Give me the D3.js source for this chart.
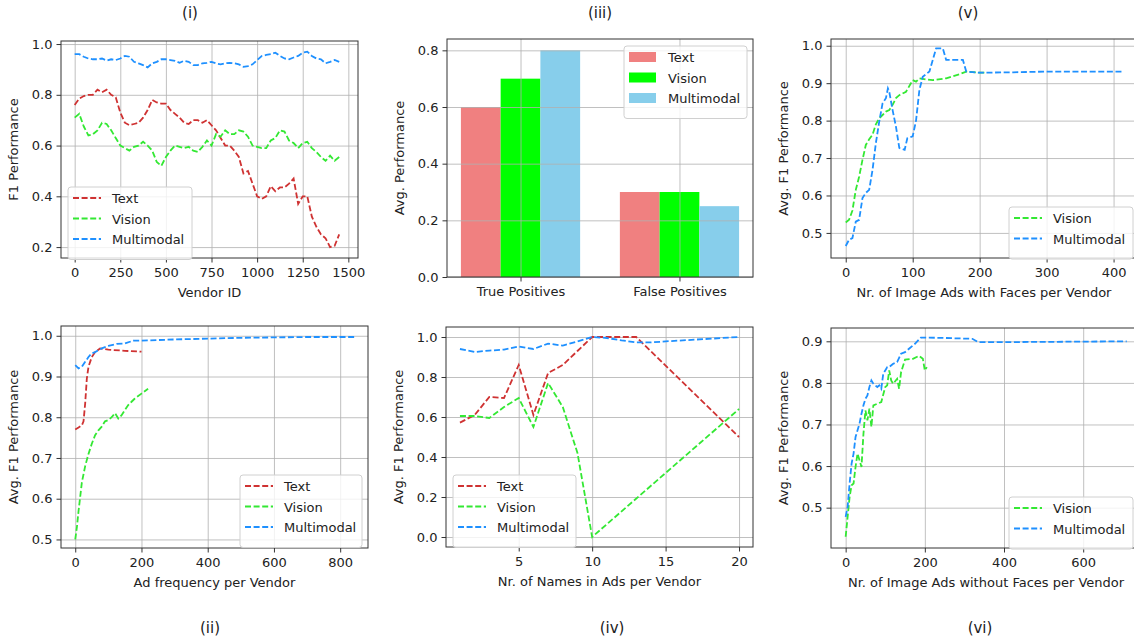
<!DOCTYPE html>
<html>
<head>
<meta charset="utf-8">
<script src="https://cdn.jsdelivr.net/npm/d3@7"></script>
<style>
body { margin: 0; background: #fff; }
text { font-family: "DejaVu Sans", sans-serif; fill: #222; }
.tick text { font-size: 13px; }
.grid line { stroke: #b0b0b0; stroke-width: 0.8; }
.grid .domain { display: none; }
.axis .domain { display: none; }
.axis line { stroke: #333; }
</style>
</head>
<body>
<script>
var svgWidth = 1134;
var svgHeight = 643;

var modelNames = ["Text", "Vision", "Multimodal"];

// (i) F1 per vendor
var vendorIds = [0, 25, 50, 75, 100, 125, 150, 175, 200, 225, 250, 275, 300, 325, 350, 375, 400, 425, 450, 475,
    500, 525, 550, 575, 600, 625, 650, 675, 700, 725, 750, 775, 800, 825, 850, 875, 900, 925, 950, 975,
    1000, 1025, 1050, 1075, 1100, 1125, 1150, 1175, 1200, 1225, 1250, 1275, 1300, 1325, 1350, 1375, 1400, 1425, 1450];
var textByVendor = [0.76, 0.785, 0.795, 0.80, 0.80, 0.82, 0.81, 0.82, 0.80, 0.79, 0.73, 0.69, 0.68, 0.685, 0.69, 0.71, 0.74, 0.78, 0.77, 0.765,
    0.765, 0.74, 0.725, 0.71, 0.69, 0.685, 0.70, 0.70, 0.69, 0.70, 0.68, 0.66, 0.63, 0.60, 0.60, 0.58, 0.555, 0.49, 0.50, 0.45,
    0.40, 0.39, 0.40, 0.44, 0.42, 0.435, 0.435, 0.45, 0.47, 0.37, 0.40, 0.40, 0.32, 0.28, 0.25, 0.235, 0.20, 0.205, 0.25];
var visionByVendor = [0.71, 0.725, 0.675, 0.64, 0.645, 0.66, 0.69, 0.685, 0.66, 0.63, 0.60, 0.59, 0.58, 0.595, 0.60, 0.615, 0.60, 0.58, 0.535, 0.52,
    0.555, 0.58, 0.60, 0.595, 0.59, 0.595, 0.58, 0.575, 0.595, 0.62, 0.60, 0.645, 0.635, 0.66, 0.645, 0.645, 0.66, 0.655, 0.635, 0.60,
    0.595, 0.59, 0.59, 0.62, 0.63, 0.66, 0.655, 0.62, 0.61, 0.59, 0.61, 0.615, 0.59, 0.575, 0.555, 0.54, 0.56, 0.54, 0.555];
var multiByVendor = [0.96, 0.96, 0.95, 0.943, 0.94, 0.94, 0.943, 0.935, 0.94, 0.937, 0.943, 0.953, 0.95, 0.93, 0.924, 0.917, 0.908, 0.924, 0.93, 0.94,
    0.94, 0.937, 0.934, 0.926, 0.934, 0.93, 0.917, 0.917, 0.924, 0.926, 0.93, 0.924, 0.92, 0.924, 0.926, 0.924, 0.92, 0.91, 0.913, 0.92,
    0.937, 0.953, 0.957, 0.96, 0.966, 0.953, 0.943, 0.94, 0.947, 0.953, 0.966, 0.97, 0.953, 0.943, 0.94, 0.924, 0.93, 0.937, 0.93];

// (iii) bars
var barCategories = ["True Positives", "False Positives"];
var barText = [0.6, 0.3];
var barVision = [0.7, 0.3];
var barMulti = [0.8, 0.25];

// (v) image ads with faces
var facesVision = [[0, 0.528], [5, 0.535], [10, 0.56], [15, 0.615], [20, 0.65], [25, 0.695], [30, 0.735], [35, 0.75], [40, 0.762],
    [45, 0.79], [50, 0.806], [55, 0.815], [60, 0.824], [65, 0.828], [70, 0.842], [75, 0.86], [80, 0.868], [90, 0.877], [100, 0.908],
    [105, 0.904], [110, 0.913], [120, 0.91], [130, 0.908], [150, 0.913], [170, 0.924], [180, 0.931], [200, 0.928], [210, 0.928]];
var facesMulti = [[0, 0.465], [5, 0.482], [10, 0.486], [15, 0.53], [20, 0.535], [25, 0.593], [30, 0.607], [35, 0.615], [40, 0.668],
    [45, 0.74], [50, 0.797], [55, 0.846], [60, 0.86], [63, 0.886], [65, 0.877], [70, 0.828], [75, 0.784], [80, 0.727], [88, 0.722],
    [92, 0.753], [100, 0.758], [105, 0.80], [110, 0.882], [115, 0.917], [125, 0.931], [135, 0.993], [145, 0.993], [150, 0.962],
    [175, 0.962], [180, 0.931], [200, 0.928], [250, 0.929], [300, 0.931], [415, 0.931]];

// (ii) ad frequency
var freqText = [[0, 0.77], [10, 0.775], [20, 0.78], [25, 0.79], [30, 0.834], [35, 0.895], [40, 0.924], [50, 0.948], [60, 0.96],
    [75, 0.969], [100, 0.966], [150, 0.963], [200, 0.961]];
var freqVision = [[0, 0.50], [5, 0.53], [10, 0.57], [15, 0.605], [20, 0.64], [25, 0.66], [30, 0.68], [40, 0.71], [50, 0.735],
    [60, 0.756], [70, 0.768], [80, 0.777], [90, 0.79], [100, 0.793], [110, 0.80], [120, 0.81], [130, 0.797], [140, 0.805],
    [150, 0.818], [160, 0.83], [170, 0.838], [180, 0.846], [200, 0.858], [220, 0.87]];
var freqMulti = [[0, 0.928], [10, 0.92], [20, 0.924], [30, 0.936], [40, 0.948], [50, 0.957], [60, 0.96], [80, 0.969], [100, 0.975],
    [125, 0.98], [150, 0.981], [175, 0.988], [200, 0.988], [300, 0.991], [400, 0.993], [500, 0.995], [600, 0.996], [700, 0.997], [845, 0.997]];

// (iv) names in ads
var namesText = [[1, 0.572], [2, 0.61], [3, 0.70], [4, 0.695], [5, 0.86], [6, 0.61], [7, 0.82], [8, 0.86], [9, 0.93],
    [10, 1.0], [11, 1.0], [12, 1.0], [13, 1.0], [20, 0.50]];
var namesVision = [[1, 0.605], [2, 0.605], [3, 0.595], [4, 0.65], [5, 0.695], [6, 0.55], [7, 0.77], [8, 0.65], [9, 0.42],
    [10, 0.0], [20, 0.64]];
var namesMulti = [[1, 0.94], [2, 0.925], [3, 0.932], [4, 0.937], [5, 0.953], [6, 0.94], [7, 0.967], [8, 0.957], [9, 0.978],
    [10, 1.0], [11, 0.995], [12, 0.983], [13, 0.973], [14, 0.973], [15, 0.978], [20, 1.0]];

// (vi) image ads without faces
var noFacesVision = [[0, 0.43], [5, 0.478], [10, 0.526], [15, 0.554], [20, 0.558], [25, 0.598], [30, 0.63], [35, 0.614], [40, 0.598],
    [45, 0.678], [50, 0.734], [55, 0.71], [60, 0.738], [65, 0.694], [70, 0.746], [80, 0.75], [90, 0.754], [100, 0.79], [105, 0.794],
    [110, 0.83], [115, 0.806], [120, 0.798], [130, 0.81], [135, 0.786], [140, 0.826], [150, 0.856], [170, 0.858], [185, 0.865],
    [195, 0.858], [200, 0.83], [205, 0.838]];
var noFacesMulti = [[0, 0.478], [5, 0.502], [10, 0.558], [15, 0.606], [20, 0.63], [25, 0.67], [30, 0.686], [35, 0.702], [40, 0.726],
    [45, 0.746], [50, 0.762], [55, 0.77], [60, 0.79], [65, 0.806], [70, 0.798], [80, 0.79], [85, 0.794], [90, 0.786], [95, 0.822],
    [100, 0.83], [105, 0.838], [110, 0.838], [120, 0.846], [130, 0.85], [140, 0.87], [150, 0.874], [160, 0.882], [175, 0.894],
    [190, 0.909], [200, 0.909], [250, 0.908], [320, 0.906], [335, 0.898], [400, 0.898], [710, 0.90]];

var lineColors = {Text: "#cf3232", Vision: "#33e833", Multimodal: "#1e90ff"};
var barColors = {Text: "lightcoral", Vision: "lime", Multimodal: "skyblue"};

var svg = d3.select("body")
            .append("svg")
            .attr("width", svgWidth)
            .attr("height", svgHeight);

var clipCount = 0;

function makePanel(box, xDom, yDom) {
    var x = d3.scaleLinear().domain(xDom).range([box.left, box.right]);
    var y = d3.scaleLinear().domain(yDom).range([box.bottom, box.top]);
    var id = "clip" + (clipCount++);
    svg.append("clipPath").attr("id", id)
       .append("rect")
       .attr("x", box.left).attr("y", box.top)
       .attr("width", box.right - box.left).attr("height", box.bottom - box.top);
    var g = svg.append("g");
    return {g: g, x: x, y: y, box: box, clip: id};
}

function drawGrid(p, xTicks, yTicks) {
    var b = p.box;
    p.g.append("g").attr("class", "grid")
       .attr("transform", `translate(0, ${b.bottom})`)
       .call(d3.axisBottom(p.x).tickValues(xTicks).tickSize(-(b.bottom - b.top)).tickFormat(""));
    p.g.append("g").attr("class", "grid")
       .attr("transform", `translate(${b.left}, 0)`)
       .call(d3.axisLeft(p.y).tickValues(yTicks).tickSize(-(b.right - b.left)).tickFormat(""));
}

function drawAxes(p, xTicks, yTicks, xFmt, yFmt, xLabel, yLabel) {
    var b = p.box;
    p.g.append("g").attr("class", "axis")
       .attr("transform", `translate(0, ${b.bottom})`)
       .call(d3.axisBottom(p.x).tickValues(xTicks).tickFormat(xFmt).tickSize(4.5).tickPadding(5));
    p.g.append("g").attr("class", "axis")
       .attr("transform", `translate(${b.left}, 0)`)
       .call(d3.axisLeft(p.y).tickValues(yTicks).tickFormat(yFmt).tickSize(4.5).tickPadding(4));
    p.g.append("rect")
       .attr("x", b.left).attr("y", b.top)
       .attr("width", b.right - b.left).attr("height", b.bottom - b.top)
       .attr("fill", "none").attr("stroke", "#333").attr("stroke-width", 1);
    p.g.append("text")
       .attr("x", (b.left + b.right) / 2)
       .attr("y", b.bottom + 39)
       .attr("text-anchor", "middle")
       .style("font-size", "13px")
       .text(xLabel);
    p.g.append("text")
       .attr("transform", `translate(${b.left - 43}, ${(b.top + b.bottom) / 2}) rotate(-90)`)
       .attr("text-anchor", "middle")
       .style("font-size", "13px")
       .text(yLabel);
}

function drawLines(p, seriesList) {
    var line = d3.line().x(d => p.x(d[0])).y(d => p.y(d[1]));
    p.g.append("g").attr("clip-path", `url(#${p.clip})`)
       .selectAll("path").data(seriesList).enter()
       .append("path")
       .attr("d", s => line(s.values))
       .attr("fill", "none")
       .attr("stroke", s => lineColors[s.name])
       .attr("stroke-width", 1.8)
       .attr("stroke-dasharray", "6,2.6");
}

function drawLegend(lx, ly, w, names, kind) {
    var h = 11 + names.length * 20.5;
    var lg = svg.append("g").attr("transform", `translate(${lx}, ${ly})`);
    lg.append("rect")
      .attr("width", w).attr("height", h).attr("rx", 3)
      .attr("fill", "#fff").attr("fill-opacity", 0.8)
      .attr("stroke", "#d0d0d0");
    names.forEach(function(name, i) {
        var cy = 11 + i * 20.5;
        if (kind === "bar") {
            lg.append("rect")
              .attr("x", 5).attr("y", cy - 5).attr("width", 27).attr("height", 10)
              .attr("fill", barColors[name]);
        } else {
            lg.append("line")
              .attr("x1", 5).attr("x2", 33).attr("y1", cy).attr("y2", cy)
              .attr("stroke", lineColors[name]).attr("stroke-width", 1.8)
              .attr("stroke-dasharray", "6,2.6");
        }
        lg.append("text")
          .attr("x", 44).attr("y", cy + 5)
          .style("font-size", "13px")
          .text(name);
    });
}

function caption(x, y, txt) {
    svg.append("text").attr("x", x).attr("y", y)
       .attr("text-anchor", "middle")
       .style("font-size", "15px")
       .text(txt);
}

var fmt1 = d3.format(".1f");
var fmt0 = d3.format("d");

// (i)
var p1 = makePanel({left: 61, right: 358, top: 41, bottom: 258}, [-75, 1553], [0.157, 1.012]);
var vendorSeries = [
    {name: "Text", values: vendorIds.map((v, i) => [v, textByVendor[i]])},
    {name: "Vision", values: vendorIds.map((v, i) => [v, visionByVendor[i]])},
    {name: "Multimodal", values: vendorIds.map((v, i) => [v, multiByVendor[i]])}
];
drawGrid(p1, [0, 250, 500, 750, 1000, 1250, 1500], [0.2, 0.4, 0.6, 0.8, 1.0]);
drawLines(p1, vendorSeries);
drawAxes(p1, [0, 250, 500, 750, 1000, 1250, 1500], [0.2, 0.4, 0.6, 0.8, 1.0], fmt0, fmt1, "Vendor ID", "F1 Performance");
drawLegend(68, 187, 124, modelNames, "line");
caption(190, 18, "(i)");

// (iii)
var p3 = makePanel({left: 447, right: 753, top: 39, bottom: 277}, [-0.4625, 1.4625], [0, 0.84]);
var barSeries = [
    {name: "Text", values: barText, offset: -0.25},
    {name: "Vision", values: barVision, offset: 0},
    {name: "Multimodal", values: barMulti, offset: 0.25}
];
var barW = 0.25;
barSeries.forEach(function(s) {
    p3.g.append("g").selectAll("rect").data(s.values).enter()
        .append("rect")
        .attr("x", (d, i) => p3.x(i + s.offset - barW / 2))
        .attr("width", p3.x(barW) - p3.x(0))
        .attr("y", d => p3.y(d))
        .attr("height", d => p3.y(0) - p3.y(d))
        .attr("fill", barColors[s.name]);
});
drawGrid(p3, [0, 1], [0, 0.2, 0.4, 0.6, 0.8]);
drawAxes(p3, [0, 1], [0, 0.2, 0.4, 0.6, 0.8], i => barCategories[i], fmt1, "", "Avg. Performance");
drawLegend(624, 46, 123, modelNames, "bar");
caption(600, 18, "(iii)");

// (v)
var p5 = makePanel({left: 831, right: 1137, top: 39, bottom: 258}, [-22, 435], [0.433, 1.018]);
drawGrid(p5, [0, 100, 200, 300, 400], [0.5, 0.6, 0.7, 0.8, 0.9, 1.0]);
drawLines(p5, [{name: "Vision", values: facesVision}, {name: "Multimodal", values: facesMulti}]);
drawAxes(p5, [0, 100, 200, 300, 400], [0.5, 0.6, 0.7, 0.8, 0.9, 1.0], fmt0, fmt1,
         "Nr. of Image Ads with Faces per Vendor", "Avg. F1 Performance");
drawLegend(1009, 207, 124, ["Vision", "Multimodal"], "line");
caption(968, 18, "(v)");

// (ii)
var p2 = makePanel({left: 61, right: 368, top: 326, bottom: 548}, [-43, 884], [0.479, 1.024]);
drawGrid(p2, [0, 200, 400, 600, 800], [0.5, 0.6, 0.7, 0.8, 0.9, 1.0]);
drawLines(p2, [{name: "Text", values: freqText}, {name: "Vision", values: freqVision}, {name: "Multimodal", values: freqMulti}]);
drawAxes(p2, [0, 200, 400, 600, 800], [0.5, 0.6, 0.7, 0.8, 0.9, 1.0], fmt0, fmt1,
         "Ad frequency per Vendor", "Avg. F1 Performance");
drawLegend(240, 475, 122, modelNames, "line");
caption(210, 633, "(ii)");

// (iv)
var p4 = makePanel({left: 446, right: 753, top: 327, bottom: 547}, [0.05, 20.95], [-0.05, 1.05]);
drawGrid(p4, [5, 10, 15, 20], [0, 0.2, 0.4, 0.6, 0.8, 1.0]);
drawLines(p4, [{name: "Text", values: namesText}, {name: "Vision", values: namesVision}, {name: "Multimodal", values: namesMulti}]);
drawAxes(p4, [5, 10, 15, 20], [0, 0.2, 0.4, 0.6, 0.8, 1.0], fmt0, fmt1,
         "Nr. of Names in Ads per Vendor", "Avg. F1 Performance");
drawLegend(453, 475, 123, modelNames, "line");
caption(612, 633, "(iv)");

// (vi)
var p6 = makePanel({left: 831, right: 1141, top: 328, bottom: 548}, [-37, 746], [0.403, 0.932]);
drawGrid(p6, [0, 200, 400, 600], [0.5, 0.6, 0.7, 0.8, 0.9]);
drawLines(p6, [{name: "Vision", values: noFacesVision}, {name: "Multimodal", values: noFacesMulti}]);
drawAxes(p6, [0, 200, 400, 600], [0.5, 0.6, 0.7, 0.8, 0.9], fmt0, fmt1,
         "Nr. of Image Ads without Faces per Vendor", "Avg. F1 Performance");
drawLegend(1009, 497, 124, ["Vision", "Multimodal"], "line");
caption(980, 633, "(vi)");
</script>
</body>
</html>
